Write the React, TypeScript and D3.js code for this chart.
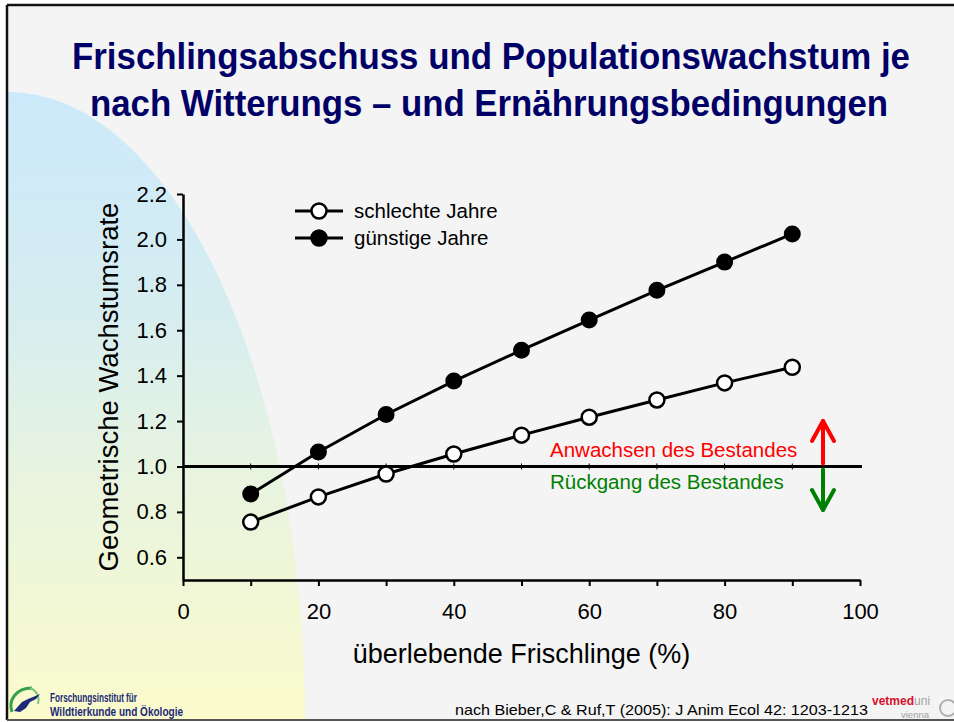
import React, { useRef, useEffect } from "react";
import * as d3 from "d3";

// survival of piglets (%)
const survival = [10, 20, 30, 40, 50, 60, 70, 80, 90];
// geometric growth rate, bad years (open circles)
const badYears = [0.755, 0.866, 0.967, 1.055, 1.138, 1.217, 1.293, 1.368, 1.437];
// geometric growth rate, good years (filled circles)
const goodYears = [0.879, 1.064, 1.229, 1.376, 1.512, 1.645, 1.776, 1.9, 2.024];
const yTicks = [0.6, 0.8, 1.0, 1.2, 1.4, 1.6, 1.8, 2.0, 2.2];
const xTicks = [0, 10, 20, 30, 40, 50, 60, 70, 80, 90, 100];
const seriesNames = ["schlechte Jahre", "günstige Jahre"];

const W = 954;
const H = 722;
const FONT = "'Liberation Sans', Arial, Helvetica, sans-serif";

const App = () => {
  const svgRef = useRef<SVGSVGElement>(null);

  const x = d3.scaleLinear().domain([0, 100]).range([183, 860]);
  const y = d3.scaleLinear().domain([0.5, 2.2]).range([580, 194]);

  useEffect(() => {
    const svg = d3.select(svgRef.current);

    const yAxis = d3
      .axisLeft(y)
      .tickValues(yTicks)
      .tickFormat(d3.format(".1f"))
      .tickSize(6)
      .tickSizeOuter(0)
      .tickPadding(10);
    const gy = svg.select<SVGGElement>(".y-axis").attr("transform", "translate(183,0)");
    gy.call(yAxis);
    gy.select(".domain").attr("stroke", "#000").attr("stroke-width", 2.5);
    gy.selectAll(".tick line").attr("stroke", "#000").attr("stroke-width", 2);
    gy.selectAll(".tick text")
      .attr("font-size", 22)
      .attr("font-family", FONT)
      .attr("fill", "#000");

    const xAxis = d3
      .axisBottom(x)
      .tickValues(xTicks)
      .tickFormat((d) => ((d as number) % 20 === 0 ? String(d) : ""))
      .tickSize(6)
      .tickSizeOuter(0)
      .tickPadding(17);
    const gx = svg.select<SVGGElement>(".x-axis").attr("transform", "translate(0,580)");
    gx.call(xAxis);
    gx.select(".domain").attr("stroke", "#000").attr("stroke-width", 2.5);
    gx.selectAll(".tick line").attr("stroke", "#000").attr("stroke-width", 2);
    gx.selectAll(".tick text")
      .attr("font-size", 22)
      .attr("font-family", FONT)
      .attr("fill", "#000");
  }, []);

  const lineGen = d3
    .line<number>()
    .x((_, i) => x(survival[i]))
    .y((d) => y(d));

  const arrowX = 823;
  const y1 = y(1.0);

  // background blob (quarter ellipse at the left)
  const blobRx = 297;
  const blobRy = 628;
  const blobPath = `M 8 ${720 - blobRy} A ${blobRx} ${blobRy} 0 0 1 ${8 + blobRx} 720 L 8 720 Z`;

  return (
    <svg
      ref={svgRef}
      width={W}
      height={H}
      style={{ position: "absolute", left: 0, top: 0 }}
      fontFamily={FONT}
    >
      <defs>
        <linearGradient id="blob" gradientUnits="userSpaceOnUse" x1="0" y1="92" x2="0" y2="720">
          <stop offset="0" stopColor="#cce9fb" />
          <stop offset="0.35" stopColor="#d6edf0" />
          <stop offset="0.62" stopColor="#e8f4df" />
          <stop offset="1" stopColor="#fbfbcc" />
        </linearGradient>
      </defs>
      <rect x={0} y={0} width={W} height={H} fill="#fff" />
      <rect x={7} y={5} width={W} height={715} fill="#f4f4f4" />
      <path d={blobPath} fill="url(#blob)" />
      <line x1={7} y1={5} x2={W} y2={5} stroke="#111" strokeWidth={2.5} />
      <line x1={7} y1={5} x2={7} y2={720} stroke="#111" strokeWidth={2.5} />
      <line x1={7} y1={720} x2={W} y2={720} stroke="#555" strokeWidth={2} />

      {/* title */}
      <text
        x={72}
        y={69}
        fontSize={36}
        fontWeight="bold"
        fill="#000066"
        textLength={838}
        lengthAdjust="spacingAndGlyphs"
      >
        Frischlingsabschuss und Populationswachstum je
      </text>
      <text
        x={90}
        y={116}
        fontSize={36}
        fontWeight="bold"
        fill="#000066"
        textLength={798}
        lengthAdjust="spacingAndGlyphs"
      >
        nach Witterungs – und Ernährungsbedingungen
      </text>

      {/* axes */}
      <g className="y-axis" />
      <g className="x-axis" />

      {/* reference line at 1.0 */}
      <line x1={183} x2={862} y1={y1} y2={y1} stroke="#000" strokeWidth={3} />
      {survival.map((s) => (
        <line key={s} x1={x(s)} x2={x(s)} y1={y1 - 3} y2={y1 + 3} stroke="#000" strokeWidth={1} />
      ))}

      {/* axis titles */}
      <text
        transform={`translate(118,${(194 + 580) / 2}) rotate(-90)`}
        textAnchor="middle"
        fontSize={27.5}
        fill="#000"
      >
        Geometrische Wachstumsrate
      </text>
      <text x={(183 + 860) / 2} y={663} textAnchor="middle" fontSize={27} fill="#000">
        überlebende Frischlinge (%)
      </text>

      {/* series */}
      <path d={lineGen(goodYears) || ""} fill="none" stroke="#000" strokeWidth={3} />
      <path d={lineGen(badYears) || ""} fill="none" stroke="#000" strokeWidth={3} />
      {goodYears.map((v, i) => (
        <circle key={"g" + i} cx={x(survival[i])} cy={y(v)} r={7.5} fill="#000" stroke="#000" strokeWidth={2} />
      ))}
      {badYears.map((v, i) => (
        <circle key={"b" + i} cx={x(survival[i])} cy={y(v)} r={7.5} fill="#fff" stroke="#000" strokeWidth={2.5} />
      ))}

      {/* legend */}
      {seriesNames.map((name, i) => {
        const ly = 211 + i * 27;
        return (
          <g key={name}>
            <line x1={295} x2={343} y1={ly} y2={ly} stroke="#000" strokeWidth={3} />
            <circle cx={319} cy={ly} r={7.5} fill={i === 0 ? "#fff" : "#000"} stroke="#000" strokeWidth={2.5} />
            <text x={354} y={ly + 7} fontSize={20.5} fill="#000">
              {name}
            </text>
          </g>
        );
      })}

      {/* growth / decline annotation */}
      <text x={550} y={457} fontSize={20.5} fill="#ff0000">
        Anwachsen des Bestandes
      </text>
      <text x={550} y={489} fontSize={20.5} fill="#008000">
        Rückgang des Bestandes
      </text>
      <g fill="none" strokeWidth={4} strokeLinecap="round" strokeLinejoin="round">
        <path d={`M ${arrowX} ${y1 - 3} L ${arrowX} 421`} stroke="#ff0000" />
        <path d={`M ${arrowX - 11} 441 L ${arrowX} 421 L ${arrowX + 11} 441`} stroke="#ff0000" />
        <path d={`M ${arrowX} ${y1 + 3} L ${arrowX} 510`} stroke="#008000" />
        <path d={`M ${arrowX - 11} 490 L ${arrowX} 510 L ${arrowX + 11} 490`} stroke="#008000" />
      </g>

      {/* footer left: institute logo */}
      <g>
        <path d="M 12 712 C 8 700, 16 688, 32 688" fill="none" stroke="#3aa050" strokeWidth={3} />
        <path d="M 30 688 C 36 690, 40 696, 38 704" fill="none" stroke="#7cc47a" strokeWidth={2} />
        <path
          d="M 14 711 L 22 702 L 28 699 L 33 697 L 40 694 L 36 699 L 30 702 L 26 708 L 20 712 Z"
          fill="#1c2a78"
        />
      </g>
      <text x={50} y={702} fontSize={12} fontWeight="bold" fill="#1c2a78" textLength={87} lengthAdjust="spacingAndGlyphs">
        Forschungsinstitut für
      </text>
      <text x={50} y={716} fontSize={12} fontWeight="bold" fill="#1c2a78" textLength={133} lengthAdjust="spacingAndGlyphs">
        Wildtierkunde und Ökologie
      </text>

      {/* footer right: citation + logo */}
      <text x={455} y={715} fontSize={15} fill="#000" textLength={413} lengthAdjust="spacingAndGlyphs">
        nach  Bieber,C &amp; Ruf,T (2005): J Anim Ecol 42: 1203-1213
      </text>
      <text x={872} y={705} fontSize={12} fontWeight="bold" fill="#d8102a">
        vetmed
        <tspan fontWeight="normal" fill="#a0a0a0">uni</tspan>
      </text>
      <text x={901} y={718} fontSize={9.5} fill="#a0a0a0">
        vienna
      </text>
      <circle cx={948} cy={708} r={8} fill="none" stroke="#b0b0b0" strokeWidth={2} />
    </svg>
  );
};

export default App;
